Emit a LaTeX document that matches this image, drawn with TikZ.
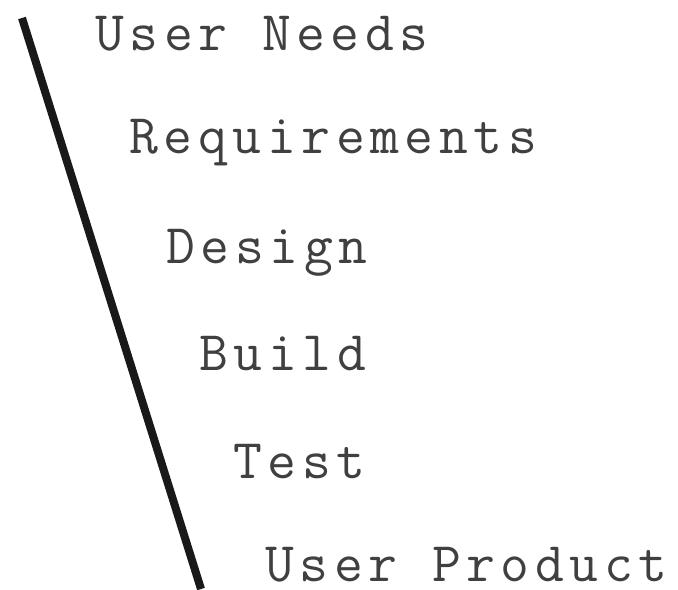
\documentclass[tikz,border=0pt]{standalone}
\usepackage{fontspec}
\newfontfamily\phasefont[LetterSpace=10]{Latin Modern Mono}
\usetikzlibrary{positioning}
\tikzset{phase node/.style={anchor=base west, inner sep=0pt, text=black!75, font=\phasefont\fontsize{28}{30}\selectfont},}

\begin{document}
\begin{tikzpicture}[x=0.5pt,y=-0.5pt]
          \useasboundingbox (0,0) rectangle (678,589);
          \node[phase node] (1) at (95,50)  {User Needs};
          \node[phase node] (2) at (129,153) {Requirements};
          \node[phase node] (3) at (166,263) {Design};
          \node[phase node] (4) at (199,370) {Build};
          \node[phase node] (5) at (233,478) {Test};
          \node[phase node] (6) at (265,581) {User Product};

          \coordinate (top) at (22,18);
          \coordinate (bottom) at (201,589);
          \draw[line width=4pt, black!90] (top) -- (bottom);
        \end{tikzpicture}
\end{document}
